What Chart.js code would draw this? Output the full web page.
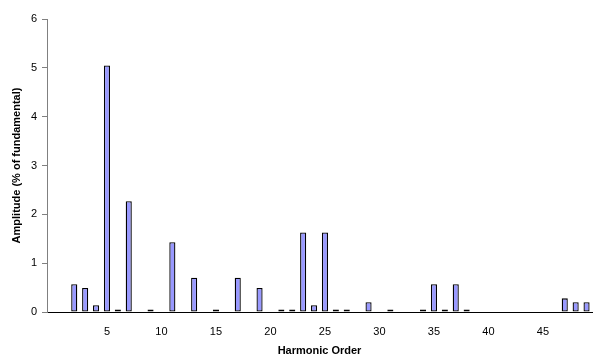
<!DOCTYPE html>
<html>
<head>
<meta charset="utf-8">
<script src="https://cdn.jsdelivr.net/npm/chart.js@4/dist/chart.umd.min.js"></script>
<style>
  html, body { margin: 0; padding: 0; background: #fff; }
  #wrap { width: 594px; height: 358px; position: relative; }
</style>
</head>
<body>
<div id="wrap"><canvas id="myChart"></canvas></div>
<script>
// harmonic order (category axis, 0..49)
var harmonicOrders = [0, 1, 2, 3, 4, 5, 6, 7, 8, 9, 10, 11, 12, 13, 14, 15, 16, 17, 18, 19,
  20, 21, 22, 23, 24, 25, 26, 27, 28, 29, 30, 31, 32, 33, 34, 35, 36, 37, 38, 39,
  40, 41, 42, 43, 44, 45, 46, 47, 48, 49];

// amplitude, % of fundamental (null = no bar)
var amplitudes = [null, null, 0.57, 0.49, 0.14, 5.05, 0.05, 2.27, null, 0.05,
  null, 1.43, null, 0.70, null, 0.05, null, 0.70, null, 0.49,
  null, 0.05, 0.05, 1.63, 0.14, 1.63, 0.05, 0.05, null, 0.20,
  null, 0.05, null, null, 0.05, 0.57, 0.05, 0.57, 0.05, null,
  null, null, null, null, null, null, null, 0.28, 0.20, 0.20];

var shownLabels = [5, 10, 15, 20, 25, 30, 35, 40, 45];
var yTicks = [0, 1, 2, 3, 4, 5, 6];

var FONT = "'Liberation Sans', Arial, sans-serif";

(function(){
  window.addEventListener('load', function() {
    var ctx = document.getElementById('myChart');

    new Chart(ctx, {
      type: 'bar',
      data: {
        labels: harmonicOrders,
        datasets: [{
          data: amplitudes,
          backgroundColor: '#9999FF',
          borderColor: '#000',
          borderWidth: 1.3,
          borderSkipped: false,
          categoryPercentage: 1,
          barPercentage: 0.56
        }]
      },
      options: {
        responsive: true,
        maintainAspectRatio: false,
        animation: false,
        layout: { padding: { top: 19, right: 2, left: 0, bottom: 0 } },
        plugins: { legend: { display: false }, tooltip: { enabled: false } },
        scales: {
          x: {
            grid: { display: false },
            border: { display: true, color: '#000', width: 1 },
            ticks: {
              autoSkip: false,
              maxRotation: 0,
              padding: 5,
              color: '#000',
              font: { family: FONT, size: 11 },
              callback: function(val, i) {
                var h = harmonicOrders[i];
                return shownLabels.indexOf(h) >= 0 ? String(h) : '';
              }
            },
            title: {
              display: true,
              text: 'Harmonic Order',
              color: '#000',
              font: { family: FONT, size: 11, weight: 'bold' },
              padding: { top: 8, bottom: 0 }
            },
            afterFit: function(scale) { scale.height = 46; }
          },
          y: {
            min: 0,
            max: 6,
            afterBuildTicks: function(scale) {
              scale.ticks = yTicks.map(function(v){ return { value: v }; });
            },
            grid: {
              drawOnChartArea: false,
              drawTicks: true,
              tickLength: 5,
              color: '#808080'
            },
            border: { display: true, color: '#808080', width: 1 },
            ticks: {
              padding: 5,
              color: '#000',
              font: { family: FONT, size: 11 }
            },
            title: {
              display: true,
              text: 'Amplitude (% of fundamental)',
              color: '#000',
              font: { family: FONT, size: 11, weight: 'bold' },
              padding: { top: 10, bottom: 4 }
            },
            afterFit: function(scale) { scale.width = 47; }
          }
        }
      }
    });
  });
})();
</script>
</body>
</html>
